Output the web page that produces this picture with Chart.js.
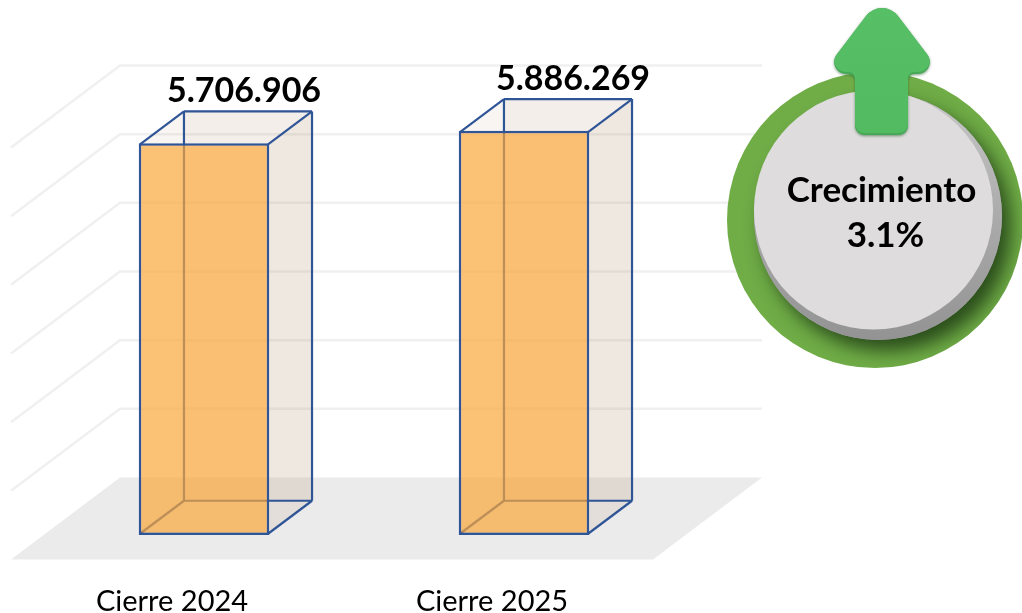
<!DOCTYPE html>
<html>
<head>
<meta charset="utf-8">
<style>
  html, body { margin: 0; padding: 0; background: #fff; overflow: hidden; }
  canvas { display: block; }
</style>
<script src="https://cdn.jsdelivr.net/npm/chart.js@4"></script>
</head>
<body>
<canvas id="chart" width="1022" height="613"></canvas>
<script>
// Data
const categories = ["Cierre 2024", "Cierre 2025"];
const values = [5706906, 5886269];
const badgeLines = ["Crecimiento", "3.1%"];
const axisMax = 6000000;
const axisStep = 1000000;

// 3D look: how far the box back face and the walls sit from the bar plane
const BOX_DX = 44;
const BOX_DY = -33;
const WALL_LEFT = 76;
const WALL_RIGHT = 78;
const WALL_DY = -57.5;
const FLOOR_DX = -109;
const FLOOR_DY = 82;
const BLUE = "#2F5597";
const BORDER = 2.5;
const FONT = "Lato, Carlito, sans-serif";
const VALUE_LABEL_DX = [40, 49];

function poly(ctx, pts) {
  ctx.beginPath();
  pts.forEach((p, i) => (i ? ctx.lineTo(p[0], p[1]) : ctx.moveTo(p[0], p[1])));
  ctx.closePath();
}

function line(ctx, x1, y1, x2, y2) {
  ctx.beginPath();
  ctx.moveTo(x1, y1);
  ctx.lineTo(x2, y2);
  ctx.stroke();
}

function formatValue(v) {
  return String(v).replace(/\B(?=(\d{3})+$)/g, ".");
}

// Floor and walls, from the y axis ticks
const wallsPlugin = {
  id: "walls",
  beforeDatasetsDraw(chart) {
    const { ctx, chartArea, scales } = chart;
    const y = scales.y;
    const backL = chartArea.left + WALL_LEFT;
    const backR = chartArea.right + WALL_RIGHT;
    const base = y.getPixelForValue(0) + WALL_DY;
    ctx.save();
    ctx.fillStyle = "#EBEBEB";
    poly(ctx, [
      [backL, base],
      [backR, base],
      [backR + FLOOR_DX, base + FLOOR_DY],
      [backL + FLOOR_DX, base + FLOOR_DY],
    ]);
    ctx.fill();
    ctx.strokeStyle = "#F0F0F0";
    ctx.lineWidth = 2.5;
    y.ticks.forEach((t) => {
      if (t.value === 0) return;
      const py = y.getPixelForValue(t.value) + WALL_DY;
      ctx.beginPath();
      ctx.moveTo(backL + FLOOR_DX, py + FLOOR_DY);
      ctx.lineTo(backL, py);
      ctx.lineTo(backR, py);
      ctx.stroke();
    });

    // back part of each box, behind the front face
    chart.getDatasetMeta(0).data.forEach((bar) => {
      const l = bar.x - bar.width / 2 + BORDER / 2;
      const r = bar.x + bar.width / 2 - BORDER / 2;
      const t = bar.y + BORDER / 2;
      const b = bar.base - BORDER / 2;
      ctx.fillStyle = "rgba(200, 175, 150, 0.10)";
      poly(ctx, [[l + BOX_DX, t + BOX_DY], [r + BOX_DX, t + BOX_DY], [r + BOX_DX, b + BOX_DY], [l + BOX_DX, b + BOX_DY]]);
      ctx.fill();
      ctx.fillStyle = "rgba(200, 175, 150, 0.21)";
      poly(ctx, [[r, t], [r + BOX_DX, t + BOX_DY], [r + BOX_DX, b + BOX_DY], [r, b]]);
      ctx.fill();
      ctx.fillStyle = "rgba(200, 175, 150, 0.12)";
      poly(ctx, [[l, t], [l + BOX_DX, t + BOX_DY], [r + BOX_DX, t + BOX_DY], [r, t]]);
      ctx.fill();

      ctx.strokeStyle = BLUE;
      ctx.lineWidth = 2.2;
      line(ctx, l + BOX_DX, t + BOX_DY, l + BOX_DX, b + BOX_DY);
      line(ctx, l + BOX_DX, b + BOX_DY, r + BOX_DX, b + BOX_DY);
      line(ctx, l, b, l + BOX_DX, b + BOX_DY);
      line(ctx, l + BOX_DX, t + BOX_DY, r + BOX_DX, t + BOX_DY);
      line(ctx, r + BOX_DX, t + BOX_DY, r + BOX_DX, b + BOX_DY);
      line(ctx, l, t, l + BOX_DX, t + BOX_DY);
      line(ctx, r, t, r + BOX_DX, t + BOX_DY);
      line(ctx, r, b, r + BOX_DX, b + BOX_DY);
    });
    ctx.restore();
  },
  afterDatasetsDraw(chart) {
    const { ctx } = chart;
    ctx.save();
    ctx.fillStyle = "#000";
    ctx.font = "bold 34px " + FONT;
    ctx.textAlign = "center";
    ctx.textBaseline = "alphabetic";
    chart.getDatasetMeta(0).data.forEach((bar, i) => {
      ctx.fillText(formatValue(values[i]), bar.x + VALUE_LABEL_DX[i], bar.y - 41);
    });
    ctx.restore();
  },
};

// Rounded polygon for the arrow
function roundedPoly(ctx, pts, radii) {
  const n = pts.length;
  const last = pts[n - 1];
  ctx.beginPath();
  ctx.moveTo((last[0] + pts[0][0]) / 2, (last[1] + pts[0][1]) / 2);
  pts.forEach((p, i) => {
    const next = pts[(i + 1) % n];
    ctx.arcTo(p[0], p[1], next[0], next[1], radii[i]);
  });
  ctx.closePath();
}

// Round badge with the arrow on top
const badgePlugin = {
  id: "badge",
  afterDraw(chart) {
    const { ctx } = chart;
    const cx = 875;
    const cy = 220;
    ctx.save();

    // green ring
    ctx.beginPath();
    ctx.arc(cx, cy, 148, 0, Math.PI * 2);
    ctx.fillStyle = "#70AD47";
    ctx.fill();

    // shadow and rim stay inside the ring
    ctx.save();
    ctx.beginPath();
    ctx.arc(cx, cy, 148, 0, Math.PI * 2);
    ctx.clip();
    ctx.shadowColor = "rgba(30, 60, 20, 0.85)";
    ctx.shadowBlur = 18;
    ctx.shadowOffsetX = 9;
    ctx.shadowOffsetY = 11;
    ctx.beginPath();
    ctx.arc(cx + 3, cy - 4, 124, 0, Math.PI * 2);
    ctx.fillStyle = "#9A9A9A";
    ctx.fill();
    ctx.restore();

    const rim = ctx.createLinearGradient(cx, 92, cx, 340);
    rim.addColorStop(0, "#C8C8C8");
    rim.addColorStop(0.5, "#ABABAB");
    rim.addColorStop(1, "#939393");
    ctx.beginPath();
    ctx.arc(cx + 3, cy - 4, 124, 0, Math.PI * 2);
    ctx.fillStyle = rim;
    ctx.fill();

    ctx.beginPath();
    ctx.arc(cx - 1.5, cy - 10, 119.5, 0, Math.PI * 2);
    ctx.fillStyle = "#DEDCDD";
    ctx.fill();

    // arrow
    const ax = 882;
    const pts = [
      [ax, -5],
      [ax + 60, 74],
      [ax + 26, 74],
      [ax + 26, 135],
      [ax - 27, 135],
      [ax - 27, 74],
      [ax - 60, 74],
    ];
    const radii = [20, 12, 6, 9, 9, 6, 12];
    ctx.save();
    ctx.shadowColor = "rgba(30, 90, 40, 0.6)";
    ctx.shadowBlur = 3;
    ctx.shadowOffsetY = 1;
    roundedPoly(ctx, pts, radii);
    ctx.fillStyle = "#45A956";
    ctx.fill();
    ctx.restore();
    const green = ctx.createLinearGradient(ax, 8, ax, 135);
    green.addColorStop(0, "#57BF65");
    green.addColorStop(1, "#52BA60");
    ctx.save();
    roundedPoly(ctx, pts, radii);
    ctx.clip();
    ctx.translate(0, -2);
    roundedPoly(ctx, pts, radii);
    ctx.fillStyle = green;
    ctx.fill();
    ctx.restore();

    // texts
    ctx.fillStyle = "#000";
    ctx.font = "bold 35px " + FONT;
    ctx.textAlign = "center";
    ctx.fillText(badgeLines[0], 881.5, 202);
    ctx.fillText(badgeLines[1], 885.5, 247);
    ctx.restore();
  },
};

new Chart(document.getElementById("chart"), {
  type: "bar",
  data: {
    labels: categories,
    datasets: [
      {
        data: values,
        backgroundColor: "rgba(249, 166, 58, 0.7)",
        borderColor: BLUE,
        borderWidth: BORDER,
        borderSkipped: false,
        barPercentage: 0.408,
        categoryPercentage: 1,
      },
    ],
  },
  options: {
    responsive: false,
    animation: false,
    layout: { padding: { left: 44, right: 338, top: 123, bottom: 0 } },
    plugins: {
      legend: { display: false },
      tooltip: { enabled: false },
    },
    scales: {
      x: {
        grid: { display: false },
        border: { display: false },
        afterFit: (scale) => {
          scale.height = 78;
        },
        ticks: {
          color: "#000",
          font: { family: FONT, size: 29 },
          padding: 41,
          labelOffset: -32,
          maxRotation: 0,
        },
      },
      y: {
        display: false,
        min: 0,
        max: axisMax,
        ticks: { stepSize: axisStep },
      },
    },
  },
  plugins: [wallsPlugin, badgePlugin],
});
</script>
</body>
</html>
